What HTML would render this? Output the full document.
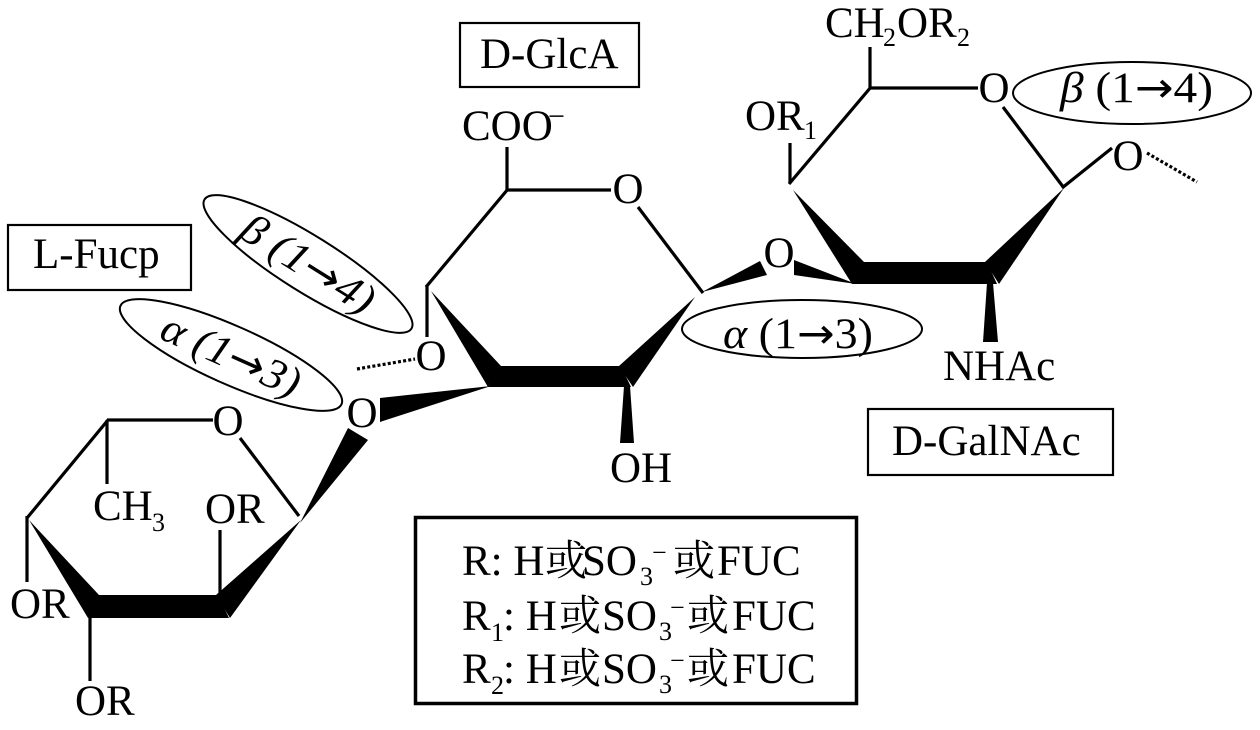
<!DOCTYPE html>
<html>
<head>
<meta charset="utf-8">
<style>
html,body{margin:0;padding:0;background:#fff;}
svg{display:block;}
text{font-family:"Liberation Serif","Noto Serif CJK SC",serif;fill:#000;}
.cjk{font-family:"Noto Serif CJK SC","Noto Sans CJK SC","Liberation Serif",serif;}
.ar{font-family:"DejaVu Sans",sans-serif;font-style:normal;}
</style>
</head>
<body>
<svg width="1260" height="730" viewBox="0 0 1260 730" xmlns="http://www.w3.org/2000/svg">
<rect width="1260" height="730" fill="#fff"/>

<!-- ===== Boxes ===== -->
<rect x="460" y="23" width="179" height="64" fill="none" stroke="#000" stroke-width="2.2"/>
<text x="480" y="68" font-size="43">D-GlcA</text>

<rect x="8" y="225" width="183" height="65" fill="none" stroke="#000" stroke-width="2.2"/>
<text x="33" y="268" font-size="43">L-Fucp</text>

<rect x="868" y="409" width="245" height="66" fill="none" stroke="#000" stroke-width="2.2"/>
<text x="892" y="455" font-size="43">D-GalNAc</text>

<rect x="415.5" y="517.5" width="441" height="186" fill="none" stroke="#000" stroke-width="3.5"/>

<!-- Legend line 1 -->
<text x="462" y="575" font-size="43">R: H</text>
<text class="cjk" x="545" y="575" font-size="42">或</text>
<text x="582" y="575" font-size="43">SO</text>
<text x="640" y="585" font-size="26">3</text>
<text x="652" y="561" font-size="26">−</text>
<text class="cjk" x="673" y="575" font-size="42">或</text>
<text x="717" y="575" font-size="43">FUC</text>

<!-- Legend line 2 -->
<text x="462" y="630" font-size="43">R</text>
<text x="491" y="641" font-size="26">1</text>
<text x="503" y="630" font-size="43">: H</text>
<text class="cjk" x="559" y="630" font-size="42">或</text>
<text x="602" y="630" font-size="43">SO</text>
<text x="659" y="640" font-size="26">3</text>
<text x="670" y="616" font-size="26">−</text>
<text class="cjk" x="687" y="630" font-size="42">或</text>
<text x="732" y="630" font-size="43">FUC</text>

<!-- Legend line 3 -->
<text x="462" y="683" font-size="43">R</text>
<text x="491" y="694" font-size="26">2</text>
<text x="503" y="683" font-size="43">: H</text>
<text class="cjk" x="559" y="683" font-size="42">或</text>
<text x="602" y="683" font-size="43">SO</text>
<text x="659" y="693" font-size="26">3</text>
<text x="670" y="669" font-size="26">−</text>
<text class="cjk" x="687" y="683" font-size="42">或</text>
<text x="732" y="683" font-size="43">FUC</text>

<!-- ===== Ellipses ===== -->
<ellipse cx="1132" cy="93" rx="119" ry="31" fill="none" stroke="#000" stroke-width="2"/>
<text x="1060" y="102" font-size="43" textLength="153" lengthAdjust="spacingAndGlyphs"><tspan font-style="italic">β</tspan> (1<tspan class="ar" font-size="42">→</tspan>4)</text>

<ellipse cx="802" cy="329" rx="120" ry="29" fill="none" stroke="#000" stroke-width="2"/>
<text x="723" y="348" font-size="43" textLength="150" lengthAdjust="spacingAndGlyphs"><tspan font-style="italic">α</tspan> (1<tspan class="ar" font-size="42">→</tspan>3)</text>

<g transform="rotate(32 308 264)">
<ellipse cx="308" cy="264" rx="122" ry="28" fill="none" stroke="#000" stroke-width="2"/>
<text x="308" y="278" font-size="43" font-style="italic" text-anchor="middle" textLength="150" lengthAdjust="spacingAndGlyphs">β (1<tspan class="ar" font-size="42">→</tspan>4)</text>
</g>

<g transform="rotate(24 231 355)">
<ellipse cx="231" cy="355" rx="121" ry="29" fill="none" stroke="#000" stroke-width="2"/>
<text x="231" y="369" font-size="43" font-style="italic" text-anchor="middle" textLength="148" lengthAdjust="spacingAndGlyphs">α (1<tspan class="ar" font-size="42">→</tspan>3)</text>
</g>

<!-- ===== Fucose ring ===== -->
<g stroke="#000" stroke-width="3.2" fill="none" stroke-linecap="butt">
<line x1="107" y1="420" x2="213" y2="420"/>
<line x1="240" y1="438" x2="299" y2="516"/>
<line x1="108" y1="420" x2="27" y2="518"/>
<line x1="107" y1="420" x2="107" y2="484"/>
<line x1="27" y1="516" x2="27" y2="582"/>
<line x1="90" y1="615" x2="90" y2="681"/>
<line x1="220" y1="597" x2="220" y2="530"/>
</g>
<g fill="#000">
<polygon points="29,520 99,595 88,618"/>
<polygon points="97,595 218,595 229,618 88,618"/>
<polygon points="216,595 301,520 230,618"/>
<polygon points="300,523 348,428 368,440"/>
</g>
<text x="228" y="435" font-size="43" text-anchor="middle">O</text>
<text x="93" y="520" font-size="43">CH</text>
<text x="152" y="531" font-size="26">3</text>
<text x="205" y="523" font-size="43">OR</text>
<text x="10" y="618" font-size="43">OR</text>
<text x="75" y="715" font-size="43">OR</text>
<text x="362" y="427" font-size="43" text-anchor="middle">O</text>

<!-- ===== GlcA ring ===== -->
<g fill="#000">
<polygon points="380,398 380,422 491,386"/>
<polygon points="431,291 501,366 488,387"/>
<polygon points="500,366 621,366 631,387 488,387"/>
<polygon points="619,366 695,297 633,387"/>
<polygon points="624,386 630,386 634,443 620,443"/>
<polygon points="702,292 760,261 767,275"/>
</g>
<g stroke="#000" stroke-width="3.2" fill="none">
<line x1="507" y1="191" x2="507" y2="147"/>
<line x1="506" y1="190" x2="611" y2="190"/>
<line x1="638" y1="207" x2="703" y2="293"/>
<line x1="508" y1="189" x2="426" y2="287"/>
<line x1="427" y1="285" x2="427" y2="337"/>
<line x1="357" y1="369" x2="415" y2="359" stroke-dasharray="3 2.2"/>
</g>
<text x="462" y="140" font-size="43">COO</text>
<text x="548" y="126" font-size="30">−</text>
<text x="628" y="203" font-size="43" text-anchor="middle">O</text>
<text x="431" y="370" font-size="43" text-anchor="middle">O</text>
<text x="610" y="482" font-size="43">OH</text>
<text x="779" y="267" font-size="43" text-anchor="middle">O</text>

<!-- ===== GalNAc ring ===== -->
<g fill="#000">
<polygon points="794,260 794,275 856,284"/>
<polygon points="793,190 864,262 852,284"/>
<polygon points="863,262 987,262 997,284 852,284"/>
<polygon points="985,262 1064,188 999,284"/>
<polygon points="987,283 993,283 998,342 983,342"/>
</g>
<g stroke="#000" stroke-width="3.2" fill="none">
<line x1="870" y1="89" x2="870" y2="47"/>
<line x1="869" y1="88" x2="978" y2="88"/>
<line x1="1003" y1="107" x2="1064" y2="188"/>
<line x1="1062" y1="188" x2="1112" y2="148"/>
<line x1="1147" y1="153" x2="1197" y2="182" stroke-dasharray="3 2.2"/>
<line x1="871" y1="87" x2="789" y2="184"/>
<line x1="790" y1="183" x2="790" y2="143"/>
</g>
<text x="825" y="37" font-size="43">CH</text>
<text x="883" y="46" font-size="26">2</text>
<text x="897" y="37" font-size="43">OR</text>
<text x="957" y="46" font-size="26">2</text>
<text x="994" y="102" font-size="43" text-anchor="middle">O</text>
<text x="1128" y="170" font-size="43" text-anchor="middle">O</text>
<text x="745" y="130" font-size="43">OR</text>
<text x="804" y="139" font-size="26">1</text>
<text x="943" y="380" font-size="43">NHAc</text>

</svg>
</body>
</html>
